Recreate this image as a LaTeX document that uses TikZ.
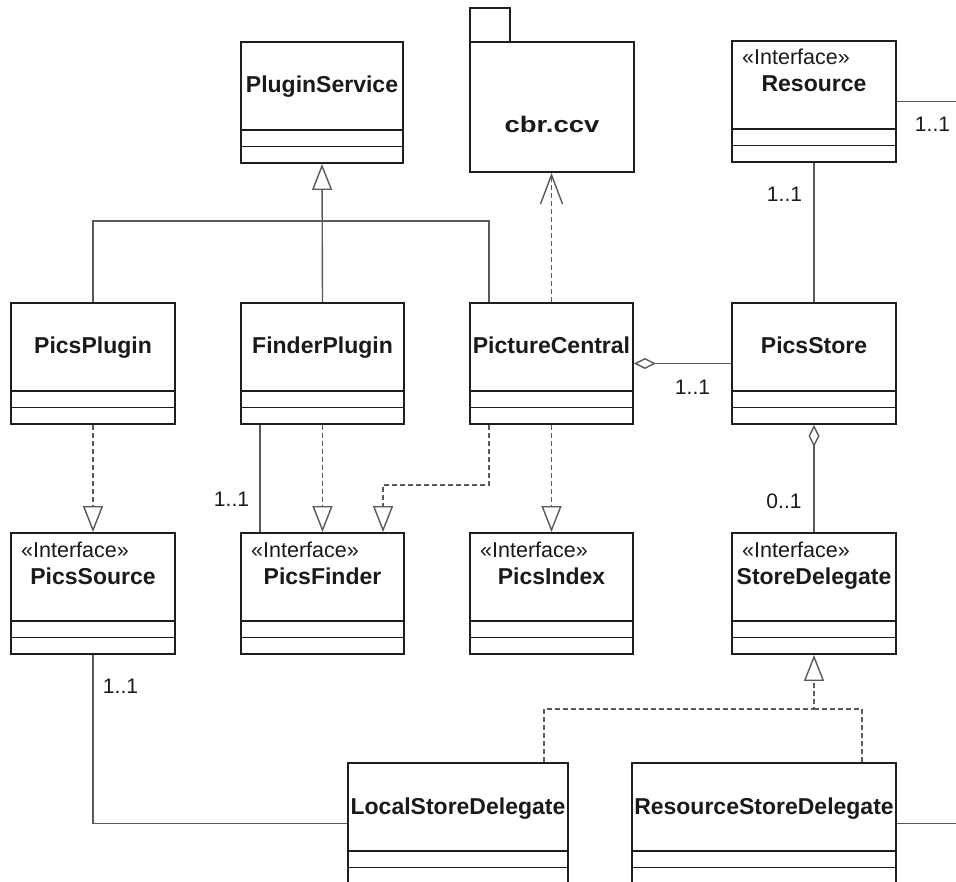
\documentclass[tikz,border=0pt]{standalone}
\usepackage{fontspec}
\setmainfont{Liberation Sans}
\usetikzlibrary{arrows.meta,fit,calc}
\definecolor{boxc}{HTML}{1E1E1E}
\definecolor{linec}{HTML}{5A5A5A}
\definecolor{txtc}{HTML}{1A1A1A}
\newcommand\umlcls[5]{%
  \coordinate (#1-a) at (#2,#3);
  \coordinate (#1-b) at (#4,#3+121);
  \node[classbox, fit=(#1-a)(#1-b)] (#1) {};
  \draw[compline] (#2,#3+88) -- (#4,#3+88);
  \draw[compline] (#2,#3+104.5) -- (#4,#3+104.5);
  \node[cname] (#1-name) at ({(#2+#4)/2},#3+51) {#5};
}
\newcommand\umlster[3]{%
  \node[stereo] (#1-st) at (#2+10,#3+24) {«Interface»};
}
\begin{document}
\begin{tikzpicture}[x=1pt,y=-1pt,
  classbox/.style={draw=boxc, line width=1.9pt, inner sep=0pt},
  compline/.style={draw=boxc, line width=1.9pt},
  cname/.style={font=\fontsize{23}{27}\selectfont\bfseries, anchor=base, inner sep=0pt, text=txtc},
  stereo/.style={font=\fontsize{21.5}{26}\selectfont, anchor=base west, inner sep=0pt, text=txtc},
  mult/.style={font=\fontsize{21}{25}\selectfont, anchor=base, inner sep=0pt, text=txtc},
  conn/.style={draw=linec, line width=1.4pt},
  depline/.style={conn, dash pattern=on 5pt off 3pt},
  gentip/.style={-{Triangle[open, length=26pt, width=20pt]}},
  deptip/.style={-{Triangle[open, length=26pt, width=20pt]}},
  vtip/.style={-{Straight Barb[length=29pt, width=22pt]}},
  agg/.style={{Diamond[open, length=22pt, width=11pt]}-}
]
\useasboundingbox (0,0) rectangle (956,882);
\fill[white] (0,0) rectangle (956,882);
\clip (0,0) rectangle (956,882);

% package cbr.ccv
\coordinate (tab-a) at (470,8);
\coordinate (tab-b) at (510,42);
\node[classbox, fit=(tab-a)(tab-b)] (cbrtab) {};
\coordinate (cbr-a) at (470,42);
\coordinate (cbr-b) at (634,172);
\node[classbox, fit=(cbr-a)(cbr-b)] (cbr) {};
\node[font=\fontsize{22.5}{26}\selectfont\bfseries, anchor=base, inner sep=0pt, text=txtc] (cbr-name) at (552,133) {\scalebox{1.22}[1]{cbr.ccv}};

% classes
\umlcls{PluginService}{241}{42}{403}{PluginService}
\umlcls{Resource}{732}{41}{896}{Resource}
\umlster{Resource}{732}{41}

\umlcls{PicsPlugin}{11}{303}{175}{PicsPlugin}
\umlcls{FinderPlugin}{241}{303}{404}{FinderPlugin}
\umlcls{PictureCentral}{470}{303}{633}{PictureCentral}
\umlcls{PicsStore}{732}{303}{896}{PicsStore}

\umlcls{PicsSource}{11}{533}{175}{PicsSource}
\umlster{PicsSource}{11}{533}
\umlcls{PicsFinder}{241}{533}{404}{PicsFinder}
\umlster{PicsFinder}{241}{533}
\umlcls{PicsIndex}{470}{533}{633}{PicsIndex}
\umlster{PicsIndex}{470}{533}
\umlcls{StoreDelegate}{732}{533}{896}{StoreDelegate}
\umlster{StoreDelegate}{732}{533}

\umlcls{LocalStoreDelegate}{348}{763}{568}{LocalStoreDelegate}
\umlcls{ResourceStoreDelegate}{632}{763}{896}{ResourceStoreDelegate}

% generalization to PluginService
\draw[conn, gentip] (FinderPlugin.north) -- (PluginService.south);
\coordinate (pcL) at ($(PictureCentral.north west)+(20,0)$);
\draw[conn] (PicsPlugin.north) -- ++(0,-81) -| (pcL);

% dependency to package
\draw[depline, vtip] (PictureCentral.north) -- (PictureCentral.north |- cbr.south);

% Resource associations
\coordinate (offR1) at (960,101.5);
\draw[conn] (Resource.east) -- (offR1);
\node[mult] (m1) at (932.5,132) {1..1};
\draw[conn] (Resource.south) -- (PicsStore.north);
\node[mult] (m2) at (784.5,202) {1..1};

% aggregation PictureCentral - PicsStore
\draw[conn, agg] (PictureCentral.east) -- (PicsStore.west);
\node[mult] (m3) at (692.5,395) {1..1};

% aggregation PicsStore - StoreDelegate
\draw[conn, agg] (PicsStore.south) -- (StoreDelegate.north);
\node[mult] (m4) at (784,508) {0..1};

% realizations row 2 -> row 3
\draw[depline, deptip] (PicsPlugin.south) -- (PicsSource.north);
\draw[depline, deptip] (FinderPlugin.south) -- (PicsFinder.north);
\draw[conn] ($(FinderPlugin.south west)+(20,0)$) -- ($(PicsFinder.north west)+(20,0)$);
\node[mult] (m5) at (231.5,506.5) {1..1};
\draw[depline, deptip] ($(PictureCentral.south west)+(20,0)$) -- ++(0,60) -| ($(PicsFinder.north west)+(143,0)$);
\draw[depline, deptip] (PictureCentral.south) -- (PicsIndex.north);

% PicsSource - LocalStoreDelegate
\draw[conn] (PicsSource.south) |- (LocalStoreDelegate.west);
\node[mult] (m6) at (120.5,693) {1..1};

% realizations of StoreDelegate
\coordinate (sdJ) at ($(StoreDelegate.south)+(0,54)$);
\coordinate (lsdTop) at ($(LocalStoreDelegate.north west)+(197,0)$);
\coordinate (rsdTop) at ($(ResourceStoreDelegate.north west)+(231,0)$);
\draw[depline, deptip] (lsdTop) |- (sdJ) -- (StoreDelegate.south);
\draw[depline] (rsdTop) |- (sdJ);

% ResourceStoreDelegate off-page association
\coordinate (offR2) at (960,823.5);
\draw[conn] (ResourceStoreDelegate.east) -- (offR2);
\end{tikzpicture}
\end{document}
